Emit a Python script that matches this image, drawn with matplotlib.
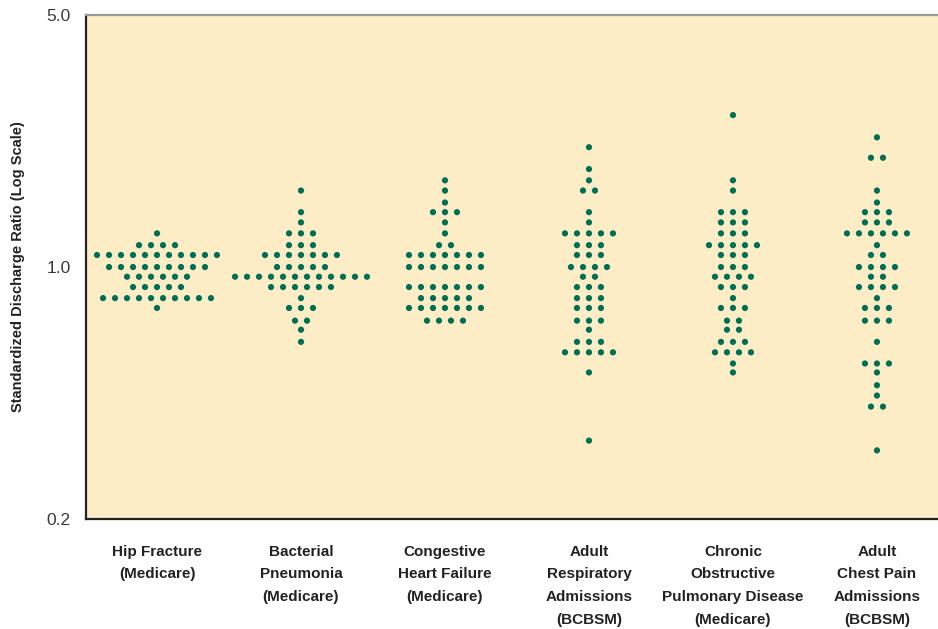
#!/usr/bin/env python3
"""
Dot plot of standardized discharge ratios (log scale) for six conditions.
"""

import numpy as np
import matplotlib.pyplot as plt
from matplotlib.ticker import FixedLocator, NullLocator

plt.rcParams['font.family'] = ['Liberation Sans', 'DejaVu Sans']

categories = [
    'Hip Fracture\n(Medicare)',
    'Bacterial\nPneumonia\n(Medicare)',
    'Congestive\nHeart Failure\n(Medicare)',
    'Adult\nRespiratory\nAdmissions\n(BCBSM)',
    'Chronic\nObstructive\nPulmonary Disease\n(Medicare)',
    'Adult\nChest Pain\nAdmissions\n(BCBSM)',
]

# each group: ratio levels (binned) and number of hospitals at each level
hip_levels = [1.24, 1.15, 1.08, 1.00, 0.94, 0.88, 0.82, 0.77]
hip_counts = [1, 4, 11, 9, 6, 5, 10, 1]

pneu_levels = [1.63, 1.42, 1.33, 1.24, 1.15, 1.08, 1.00, 0.94, 0.88, 0.82, 0.77, 0.71, 0.67, 0.62]
pneu_counts = [1, 1, 1, 3, 3, 7, 5, 12, 6, 1, 3, 2, 1, 1]

chf_levels = [1.74, 1.63, 1.51, 1.42, 1.33, 1.24, 1.15, 1.08, 1.00, 0.88, 0.82, 0.77, 0.71]
chf_counts = [1, 1, 1, 3, 1, 1, 2, 7, 7, 7, 5, 7, 4]

resp_levels = [2.15, 1.87, 1.74, 1.63, 1.42, 1.33, 1.24, 1.15, 1.08, 1.00,
               0.94, 0.88, 0.82, 0.77, 0.71, 0.67, 0.62, 0.58, 0.51, 0.33]
resp_counts = [1, 1, 1, 2, 1, 1, 5, 3, 3, 4, 2, 3, 3, 3, 3, 1, 3, 5, 1, 1]

copd_levels = [2.64, 1.74, 1.63, 1.42, 1.33, 1.24, 1.15, 1.08, 1.00, 0.94,
               0.88, 0.82, 0.77, 0.71, 0.67, 0.62, 0.58, 0.54, 0.51]
copd_counts = [1, 1, 1, 3, 3, 3, 5, 3, 3, 4, 3, 1, 3, 2, 2, 3, 4, 1, 1]

chest_levels = [2.29, 2.01, 1.63, 1.51, 1.42, 1.33, 1.24, 1.15, 1.08, 1.00, 0.94,
                0.88, 0.82, 0.77, 0.71, 0.62, 0.54, 0.51, 0.47, 0.44, 0.41, 0.31]
chest_counts = [1, 2, 1, 1, 3, 3, 6, 1, 2, 4, 2, 4, 1, 3, 3, 1, 3, 1, 1, 1, 2, 1]

groups = [
    (hip_levels, hip_counts),
    (pneu_levels, pneu_counts),
    (chf_levels, chf_counts),
    (resp_levels, resp_counts),
    (copd_levels, copd_counts),
    (chest_levels, chest_counts),
]

y_ticks = [0.2, 1.0, 5.0]

bg = '#FCEDC7'
dot = '#006F55'
step = 0.0833  # horizontal spacing between dots in one row

fig = plt.figure(figsize=(9.38, 6.29), dpi=100)
ax = fig.add_axes([0.0917, 0.1749, 0.9083, 0.8011])
ax.set_facecolor(bg)

for i, (levels, counts) in enumerate(groups):
    xs, ys = [], []
    for lev, n in zip(levels, counts):
        offs = (np.arange(n) - (n - 1) / 2) * step
        xs.extend(i + offs)
        ys.extend([lev] * n)
    ax.scatter(xs, ys, s=20, color=dot, edgecolors='none', zorder=3)

ax.set_yscale('log')
ax.set_ylim(0.2, 5.0)
ax.set_xlim(-0.493, 5.424)
ax.yaxis.set_major_locator(FixedLocator(y_ticks))
ax.yaxis.set_minor_locator(NullLocator())
ax.set_yticklabels([f'{v:.1f}' for v in y_ticks], fontsize=12.5, color='#3a3a3a')
ax.tick_params(axis='y', length=0, pad=11)

ax.set_xticks(range(len(categories)))
ax.set_xticklabels(categories, fontsize=11, fontweight='bold', color='#222222',
                   linespacing=1.79)
ax.tick_params(axis='x', length=0, pad=18.5)

ax.set_ylabel('Standardized Discharge Ratio (Log Scale)', fontsize=10.5,
              fontweight='bold', color='#222222')
ax.yaxis.set_label_coords(-0.0716, 0.5)

for side in ['left', 'bottom']:
    ax.spines[side].set_color('#222222')
    ax.spines[side].set_linewidth(1.6)
ax.spines['top'].set_color('#999999')
ax.spines['top'].set_linewidth(1.6)
ax.spines['right'].set_visible(False)

plt.savefig('out.png', dpi=100)
plt.close()
